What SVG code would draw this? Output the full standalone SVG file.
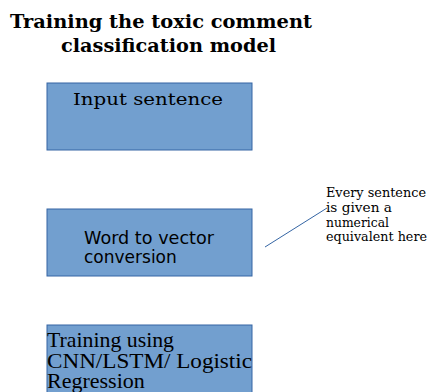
<svg xmlns="http://www.w3.org/2000/svg" width="430" height="392" viewBox="0 0 430 392">
<style>
.box{fill:#729fcf;stroke:#3465a4;stroke-width:1}
.title{font-family:"DejaVu Serif",serif;font-weight:bold;font-size:18px;fill:#000}
.ser{font-family:"DejaVu Serif",serif;fill:#000}
.sans{font-family:"DejaVu Sans",sans-serif;fill:#000}
.lib{font-family:"Liberation Serif",serif;fill:#000}
.note{font-family:"DejaVu Serif",serif;font-size:13px;fill:#000}
</style>
<rect width="430" height="392" fill="#fff"/>
<g id="title">
<text class="title" x="10" y="28" textLength="302" lengthAdjust="spacingAndGlyphs">Training the toxic comment</text>
<text class="title" x="61" y="52" textLength="215" lengthAdjust="spacingAndGlyphs">classification model</text>
</g>
<g id="input">
<rect class="box" x="47" y="83" width="205" height="67"/>
<text class="ser" x="73" y="105" font-size="17" textLength="150" lengthAdjust="spacingAndGlyphs">Input sentence</text>
</g>
<g id="w2v">
<rect class="box" x="47" y="209" width="205" height="67"/>
<text class="sans" x="84" y="244" font-size="17" textLength="130" lengthAdjust="spacingAndGlyphs">Word to vector</text>
<text class="sans" x="84" y="263" font-size="17">conversion</text>
</g>
<g id="train">
<rect class="box" x="47" y="325" width="205" height="80"/>
<text class="lib" x="47" y="347" font-size="22" textLength="127" lengthAdjust="spacingAndGlyphs">Training using</text>
<text class="lib" x="47" y="368" font-size="22" textLength="205" lengthAdjust="spacingAndGlyphs">CNN/LSTM/ Logistic</text>
<text class="lib" x="47" y="388" font-size="22">Regression</text>
</g>
<g id="note">
<text class="note" x="326" y="197" textLength="100" lengthAdjust="spacingAndGlyphs">Every sentence</text>
<text class="note" x="326" y="212" textLength="66" lengthAdjust="spacingAndGlyphs">is given a</text>
<text class="note" x="326" y="227" textLength="63" lengthAdjust="spacingAndGlyphs">numerical</text>
<text class="note" x="326" y="241" textLength="101" lengthAdjust="spacingAndGlyphs">equivalent here</text>
</g>
<g id="connectors">
<line x1="265" y1="247" x2="327" y2="208" stroke="#3465a4" stroke-width="1"/>
</g>
</svg>
